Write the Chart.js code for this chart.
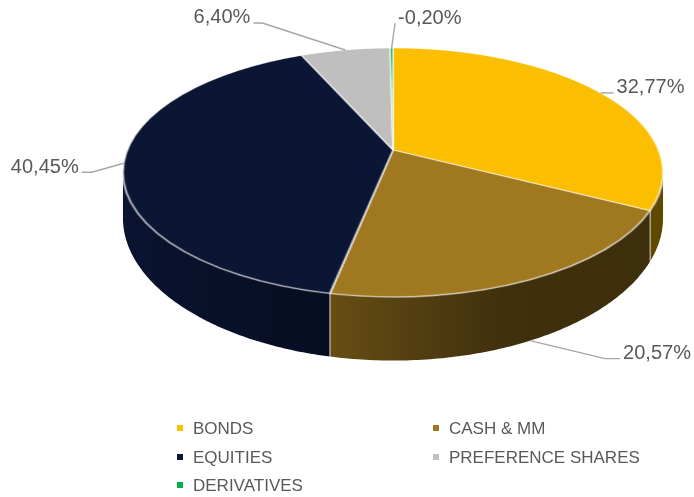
<!DOCTYPE html>
<html>
<head>
<meta charset="utf-8">
<title>Asset allocation</title>
<script src="https://cdn.jsdelivr.net/npm/chart.js@4.4.0/dist/chart.umd.min.js"></script>
<style>
  html, body { margin: 0; padding: 0; background: #fff; }
  #pieChart { display: block; }
</style>
</head>
<body>
<canvas id="pieChart" width="694" height="497"></canvas>
<script>
// data
const categories = ["BONDS", "CASH & MM", "EQUITIES", "PREFERENCE SHARES", "DERIVATIVES"];
const shares = [32.77, 20.57, 40.45, 6.40, -0.20];
const shareLabels = ["32,77%", "20,57%", "40,45%", "6,40%", "-0,20%"];
const sliceColors = ["#FBBE00", "#A07820", "#0B1534", "#BFBFBF", "#00B050"];

// tilted view of the pie (perspective like Excel's 3-D pie)
const VIEW = { cx: 393, cy: 150, a: 265.6, b: 120.4, p: 0.1807, depth: 42.7 };
// leader line bends: [dx, dy] from the slice anchor, then a short tail
const leaderBends = [[3, 0, 10], [75, 18, 15], [-32, 9, 10], [-83, -27, 9], [3.5, -25, 0]];
const legendCols = [177, 433];
const legendRows = [428, 457, 485];
const textColor = "#595959";

function proj(t, drop) {
  const u = Math.cos(t), v = Math.sin(t), d = 1 - VIEW.p * v;
  return [VIEW.cx + VIEW.a * u / d, VIEW.cy + VIEW.b * v / d + (drop ? VIEW.depth / (d * d) : 0)];
}

function shade(hex, f) {
  const n = parseInt(hex.slice(1), 16);
  const r = Math.round(((n >> 16) & 255) * f), g = Math.round(((n >> 8) & 255) * f), b = Math.round((n & 255) * f);
  return `rgb(${r},${g},${b})`;
}

const pie3d = {
  id: "pie3d",
  afterDatasetsDraw(chart) {
    const ctx = chart.ctx;
    const W = ctx.canvas.width, H = ctx.canvas.height;
    const arcs = chart.getDatasetMeta(0).data;
    const sx = arcs[0].x, sy = arcs[0].y, R = arcs[0].outerRadius;
    const src = ctx.getImageData(0, 0, W, H).data;
    ctx.clearRect(0, 0, W, H);

    // side walls (front half only)
    const lo = Math.asin(VIEW.p), hi = Math.PI - lo;
    arcs.forEach((arc, i) => {
      const s = Math.max(arc.startAngle, lo), e = Math.min(arc.endAngle, hi);
      if (e <= s) return;
      const col = chart.data.datasets[0].backgroundColor[i];
      const grad = ctx.createLinearGradient(123, 0, 663, 0);
      grad.addColorStop(0, shade(col, 0.92));
      grad.addColorStop(0.383, shade(col, 0.64));
      grad.addColorStop(0.7, shade(col, 0.40));
      grad.addColorStop(1, shade(col, 0.38));
      const n = Math.max(2, Math.ceil((e - s) * 80));
      ctx.beginPath();
      for (let k = 0; k <= n; k++) {
        const [x, y] = proj(s + (e - s) * k / n, false);
        if (k === 0) ctx.moveTo(x, y - 2); else ctx.lineTo(x, y - 2);
      }
      for (let k = n; k >= 0; k--) {
        const [x, y] = proj(s + (e - s) * k / n, true);
        ctx.lineTo(x, y);
      }
      ctx.closePath();
      ctx.fillStyle = grad;
      ctx.fill();
      ctx.strokeStyle = "rgba(255,255,255,0.6)";
      ctx.lineWidth = 1;
      [s, e].forEach(t => {
        if (t <= lo || t >= hi) return;
        const p0 = proj(t, false), p1 = proj(t, true);
        ctx.beginPath(); ctx.moveTo(p0[0], p0[1]); ctx.lineTo(p1[0], p1[1]); ctx.stroke();
      });
    });

    // top face: the pie Chart.js drew, seen through the perspective
    const x0 = 110, x1 = 680, y0 = 40, y1 = 306;
    const out = new ImageData(x1 - x0, y1 - y0);
    const sub = [0.25, 0.75];
    const acc = [0, 0, 0, 0];
    function sample(fx, fy) {
      const ix = Math.floor(fx), iy = Math.floor(fy), tx = fx - ix, ty = fy - iy;
      for (let j = 0; j < 2; j++) for (let m = 0; m < 2; m++) {
        const px = ix + m, py = iy + j;
        if (px < 0 || py < 0 || px >= W || py >= H) continue;
        const w = (m ? tx : 1 - tx) * (j ? ty : 1 - ty);
        const id = (py * W + px) * 4, al = src[id + 3] * w;
        acc[0] += src[id] * al; acc[1] += src[id + 1] * al; acc[2] += src[id + 2] * al; acc[3] += al;
      }
    }
    for (let y = y0; y < y1; y++) {
      for (let x = x0; x < x1; x++) {
        acc[0] = acc[1] = acc[2] = acc[3] = 0;
        for (const oy of sub) for (const ox of sub) {
          const Y = (y + oy - VIEW.cy) / VIEW.b;
          const v = Y / (1 + VIEW.p * Y);
          const u = (x + ox - VIEW.cx) / (VIEW.a * (1 + VIEW.p * Y));
          if (u * u + v * v > 1.06) continue;
          sample(sx + R * u - 0.5, sy + R * v - 0.5);
        }
        if (acc[3] > 0) {
          const o = ((y - y0) * (x1 - x0) + (x - x0)) * 4;
          out.data[o] = acc[0] / acc[3];
          out.data[o + 1] = acc[1] / acc[3];
          out.data[o + 2] = acc[2] / acc[3];
          out.data[o + 3] = acc[3] / 4;
        }
      }
    }
    const tmp = document.createElement("canvas");
    tmp.width = x1 - x0; tmp.height = y1 - y0;
    tmp.getContext("2d").putImageData(out, 0, 0);
    ctx.drawImage(tmp, x0, y0);
  },
  afterDraw(chart) {
    const ctx = chart.ctx;
    const arcs = chart.getDatasetMeta(0).data;
    const lo = Math.asin(VIEW.p), hi = Math.PI - lo;
    ctx.save();
    // data labels with leader lines
    ctx.font = '20px "Liberation Sans", Arial, sans-serif';
    ctx.textBaseline = "middle";
    arcs.forEach((arc, i) => {
      const mid = (arc.startAngle + arc.endAngle) / 2;
      const [ax, ay] = proj(mid, mid > lo && mid < hi);
      const [dx, dy, tail] = leaderBends[i];
      const side = dx >= 0 ? 1 : -1;
      const ex = ax + dx, ey = ay + dy;
      ctx.strokeStyle = "#A6A6A6";
      ctx.lineWidth = 1.4;
      ctx.beginPath();
      ctx.moveTo(ax, ay); ctx.lineTo(ex, ey); ctx.lineTo(ex + side * tail, ey);
      ctx.stroke();
      ctx.fillStyle = textColor;
      ctx.textAlign = side > 0 ? "left" : "right";
      ctx.fillText(shareLabels[i], ex + side * (tail + 3), ey - 5);
    });
    // legend in two columns
    ctx.font = '17px "Liberation Sans", Arial, sans-serif';
    ctx.textAlign = "left";
    chart.data.labels.forEach((name, i) => {
      const x = legendCols[i % 2], y = legendRows[Math.floor(i / 2)];
      ctx.fillStyle = chart.data.datasets[0].backgroundColor[i];
      ctx.fillRect(x, y - 3, 6, 6);
      ctx.fillStyle = textColor;
      ctx.fillText(name, x + 16, y + 1);
    });
    ctx.restore();
  }
};

const ctx = document.getElementById("pieChart").getContext("2d");
const allocationChart = new Chart(ctx, {
  type: "pie",
  data: {
    labels: categories,
    datasets: [
      {
        data: shares,
        backgroundColor: sliceColors,
        borderColor: "rgba(255,255,255,0.75)",
        borderWidth: 1.6,
        hoverOffset: 0,
        clip: false,
      },
    ],
  },
  options: {
    responsive: false,
    animation: false,
    events: [],
    layout: { padding: { top: 8, bottom: 9, left: 107, right: 107 } },
    plugins: {
      legend: { display: false },
      tooltip: { enabled: false },
    },
  },
  plugins: [pie3d],
});
</script>
</body>
</html>
